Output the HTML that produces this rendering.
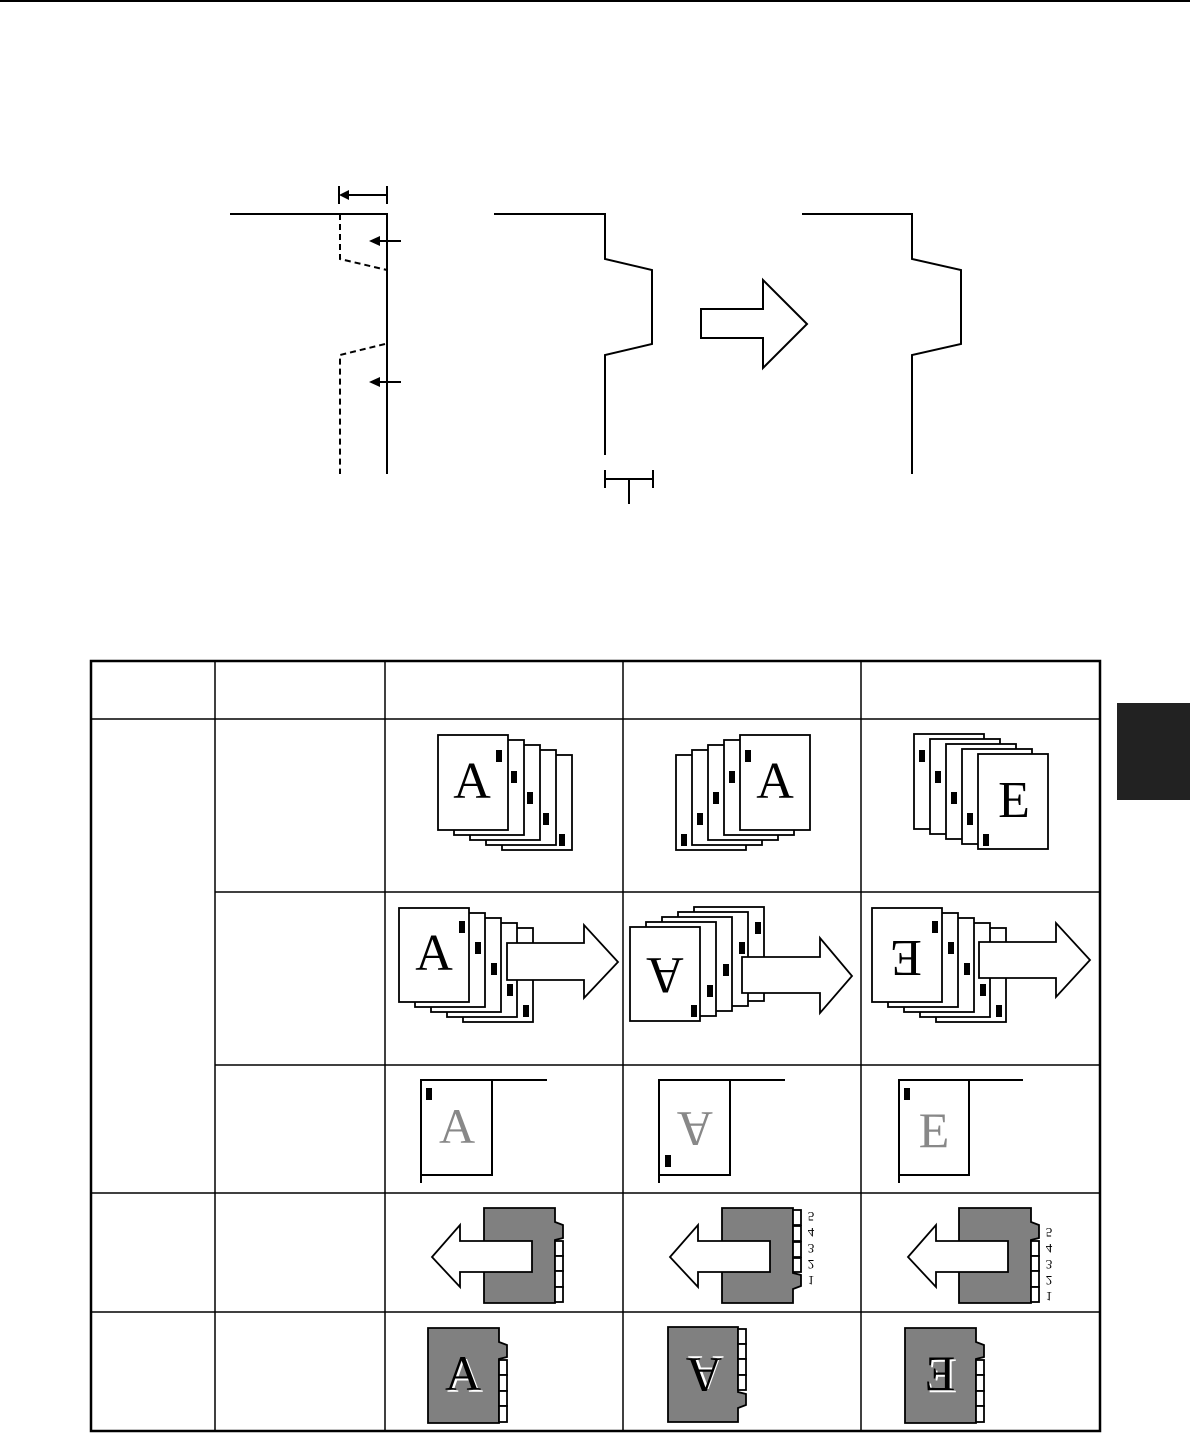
<!DOCTYPE html>
<html><head><meta charset="utf-8"><style>
html,body{margin:0;padding:0;background:#fff;}
svg{display:block;}
text{font-family:"Liberation Serif",serif;}
</style></head><body>
<svg width="1190" height="1434" viewBox="0 0 1190 1434" xmlns="http://www.w3.org/2000/svg">
<line x1="0" y1="1" x2="1190" y2="1" stroke="#000" stroke-width="2"/>
<rect x="1117" y="703" width="73" height="97" fill="#222"/>

<g fill="none" stroke="#000" stroke-width="2">
<polyline points="230,214 387,214 387,474"/>
<polyline points="340,214 340,259 387,270" stroke-dasharray="6,4"/>
<polyline points="385,344 340,355 340,474" stroke-dasharray="6,4"/>
<line x1="339" y1="186" x2="339" y2="204"/>
<line x1="387" y1="186" x2="387" y2="204"/>
<line x1="345" y1="195" x2="387" y2="195"/>
<line x1="376" y1="241" x2="401" y2="241"/>
<line x1="376" y1="382" x2="401" y2="382"/>
<polyline points="494,214 605,214 605,259 652,270 652,344 605,355 605,455"/>
<line x1="605" y1="470" x2="605" y2="488"/>
<line x1="653" y1="470" x2="653" y2="488"/>
<line x1="605" y1="479" x2="653" y2="479"/>
<line x1="629" y1="479" x2="629" y2="504"/>
<polyline points="802,214 912,214 912,259 961,270 961,344 912,355 912,474"/>
<polygon points="701,309 763,309 763,280 807,324 763,368 763,338 701,338" fill="#fff"/>
</g>
<g fill="#000">
<polygon points="339,195 349,190 349,200"/>
<polygon points="369,241 380,236 380,246"/>
<polygon points="369,382 380,377 380,387"/>
</g>

<g stroke="#000" fill="none">
<rect x="91" y="661" width="1009" height="770" stroke-width="2.5"/>
<g stroke-width="1.5">
<line x1="215" y1="661" x2="215" y2="1431"/>
<line x1="385" y1="661" x2="385" y2="1431"/>
<line x1="623" y1="661" x2="623" y2="1431"/>
<line x1="861" y1="661" x2="861" y2="1431"/>
<line x1="91" y1="719" x2="1100" y2="719"/>
<line x1="215" y1="892" x2="1100" y2="892"/>
<line x1="215" y1="1065" x2="1100" y2="1065"/>
<line x1="91" y1="1193" x2="1100" y2="1193"/>
<line x1="91" y1="1312" x2="1100" y2="1312"/>
</g>
</g>

<!-- Row 1 -->
<g stroke="#000" stroke-width="1.8">
<rect x="502" y="755" width="70" height="95" fill="#fff"/><rect x="559" y="834" width="6" height="12" fill="#000" stroke="none"/>
<rect x="486" y="750" width="70" height="95" fill="#fff"/><rect x="543" y="813" width="6" height="12" fill="#000" stroke="none"/>
<rect x="470" y="745" width="70" height="95" fill="#fff"/><rect x="527" y="792" width="6" height="12" fill="#000" stroke="none"/>
<rect x="454" y="740" width="70" height="95" fill="#fff"/><rect x="511" y="771" width="6" height="12" fill="#000" stroke="none"/>
<rect x="438" y="735" width="70" height="95" fill="#fff"/><rect x="496" y="750" width="6" height="12" fill="#000" stroke="none"/>

<rect x="676" y="755" width="70" height="95" fill="#fff"/><rect x="681" y="834" width="6" height="12" fill="#000" stroke="none"/>
<rect x="692" y="750" width="70" height="95" fill="#fff"/><rect x="697" y="813" width="6" height="12" fill="#000" stroke="none"/>
<rect x="708" y="745" width="70" height="95" fill="#fff"/><rect x="713" y="792" width="6" height="12" fill="#000" stroke="none"/>
<rect x="724" y="740" width="70" height="95" fill="#fff"/><rect x="729" y="771" width="6" height="12" fill="#000" stroke="none"/>
<rect x="740" y="735" width="70" height="95" fill="#fff"/><rect x="745" y="750" width="6" height="12" fill="#000" stroke="none"/>

<rect x="914" y="734" width="70" height="95" fill="#fff"/><rect x="919" y="750" width="6" height="12" fill="#000" stroke="none"/>
<rect x="930" y="739" width="70" height="95" fill="#fff"/><rect x="935" y="771" width="6" height="12" fill="#000" stroke="none"/>
<rect x="946" y="744" width="70" height="95" fill="#fff"/><rect x="951" y="792" width="6" height="12" fill="#000" stroke="none"/>
<rect x="962" y="749" width="70" height="95" fill="#fff"/><rect x="967" y="813" width="6" height="12" fill="#000" stroke="none"/>
<rect x="978" y="754" width="70" height="95" fill="#fff"/><rect x="983" y="834" width="6" height="12" fill="#000" stroke="none"/>
</g>
<text x="472" y="798" font-size="52" text-anchor="middle">A</text>
<text x="775" y="798" font-size="52" text-anchor="middle">A</text>
<text x="1014" y="817" font-size="52" text-anchor="middle">E</text>

<!-- Row 2 -->
<g stroke="#000" stroke-width="1.8">
<rect x="463" y="928" width="70" height="94" fill="#fff"/><rect x="523" y="1005" width="6" height="12" fill="#000" stroke="none"/>
<rect x="447" y="923" width="70" height="94" fill="#fff"/><rect x="507" y="984" width="6" height="12" fill="#000" stroke="none"/>
<rect x="431" y="918" width="70" height="94" fill="#fff"/><rect x="491" y="963" width="6" height="12" fill="#000" stroke="none"/>
<rect x="415" y="913" width="70" height="94" fill="#fff"/><rect x="475" y="942" width="6" height="12" fill="#000" stroke="none"/>
<rect x="399" y="908" width="70" height="94" fill="#fff"/><rect x="459" y="921" width="6" height="12" fill="#000" stroke="none"/>

<rect x="694" y="907" width="70" height="94" fill="#fff"/><rect x="755" y="922" width="6" height="12" fill="#000" stroke="none"/>
<rect x="678" y="912" width="70" height="94" fill="#fff"/><rect x="739" y="942" width="6" height="12" fill="#000" stroke="none"/>
<rect x="662" y="917" width="70" height="94" fill="#fff"/><rect x="723" y="964" width="6" height="12" fill="#000" stroke="none"/>
<rect x="646" y="922" width="70" height="94" fill="#fff"/><rect x="707" y="985" width="6" height="12" fill="#000" stroke="none"/>
<rect x="630" y="927" width="70" height="94" fill="#fff"/><rect x="691" y="1005" width="6" height="12" fill="#000" stroke="none"/>

<rect x="936" y="928" width="70" height="94" fill="#fff"/><rect x="996" y="1005" width="6" height="12" fill="#000" stroke="none"/>
<rect x="920" y="923" width="70" height="94" fill="#fff"/><rect x="980" y="984" width="6" height="12" fill="#000" stroke="none"/>
<rect x="904" y="918" width="70" height="94" fill="#fff"/><rect x="964" y="963" width="6" height="12" fill="#000" stroke="none"/>
<rect x="888" y="913" width="70" height="94" fill="#fff"/><rect x="948" y="942" width="6" height="12" fill="#000" stroke="none"/>
<rect x="872" y="908" width="70" height="94" fill="#fff"/><rect x="932" y="921" width="6" height="12" fill="#000" stroke="none"/>
</g>
<text x="434" y="970" font-size="52" text-anchor="middle">A</text>
<text transform="translate(665,958) rotate(180)" font-size="52" text-anchor="middle">A</text>
<text transform="translate(906,941) rotate(180)" font-size="52" text-anchor="middle">E</text>
<g stroke="#000" stroke-width="1.8" fill="#fff">
<polygon points="507,943 584,943 584,925 618,962 584,998 584,980 507,980"/>
<polygon points="742,957 820,957 820,938 852,976 820,1013 820,993 742,993"/>
<polygon points="979,942 1056,942 1056,923 1090,960 1056,997 1056,978 979,978"/>
</g>

<!-- Row 3 -->
<g stroke="#000" stroke-width="2" fill="none">
<polyline points="421,1183 421,1080 547,1080"/><rect x="421" y="1080" width="71" height="95"/>
<polyline points="659,1183 659,1080 785,1080"/><rect x="659" y="1080" width="71" height="95"/>
<polyline points="899,1183 899,1080 1023,1080"/><rect x="899" y="1080" width="70" height="95"/>
</g>
<rect x="426" y="1088" width="6" height="12"/>
<rect x="665" y="1155" width="6" height="12"/>
<rect x="904" y="1088" width="6" height="12"/>
<g fill="#888" font-size="50" text-anchor="middle">
<text x="457" y="1143">A</text>
<text transform="translate(695,1112) rotate(180)">A</text>
<text x="934" y="1147">E</text>
</g>

<!-- Row 4 -->
<g stroke="#000" stroke-width="1.8">
<polygon points="484,1208 555,1208 555,1222 563,1225 563,1238 555,1240 555,1303 484,1303" fill="#808080"/>
<rect x="555" y="1241" width="8" height="15" fill="#fff"/><rect x="555" y="1256" width="8" height="15" fill="#fff"/><rect x="555" y="1271" width="8" height="16" fill="#fff"/><rect x="555" y="1287" width="8" height="15" fill="#fff"/>
<polygon points="432,1257 460,1225 460,1241 532,1241 532,1272 460,1272 460,1287" fill="#fff"/>

<polygon points="722,1208 793,1208 793,1273 801,1275 801,1286 793,1289 793,1303 722,1303" fill="#808080"/>
<rect x="793" y="1210" width="8" height="15" fill="#fff"/><rect x="793" y="1226" width="8" height="15" fill="#fff"/><rect x="793" y="1242" width="8" height="15" fill="#fff"/><rect x="793" y="1258" width="8" height="14" fill="#fff"/>
<polygon points="670,1257 698,1225 698,1241 770,1241 770,1272 698,1272 698,1287" fill="#fff"/>

<polygon points="959,1208 1031,1208 1031,1222 1039,1225 1039,1238 1031,1240 1031,1303 959,1303" fill="#808080"/>
<rect x="1031" y="1241" width="8" height="15" fill="#fff"/><rect x="1031" y="1256" width="8" height="15" fill="#fff"/><rect x="1031" y="1271" width="8" height="16" fill="#fff"/><rect x="1031" y="1287" width="8" height="15" fill="#fff"/>
<polygon points="908,1257 936,1225 936,1241 1008,1241 1008,1272 936,1272 936,1287" fill="#fff"/>
</g>
<g font-family="Liberation Sans,sans-serif" font-size="13" text-anchor="middle">
<g transform="translate(811,1249) scale(1,-1)">
<text x="0" y="-27">1</text><text x="0" y="-11">2</text><text x="0" y="5">3</text><text x="0" y="21">4</text><text x="0" y="37">5</text>
</g>
<g transform="translate(1049,1265) scale(1,-1)">
<text x="0" y="-27">1</text><text x="0" y="-11">2</text><text x="0" y="5">3</text><text x="0" y="21">4</text><text x="0" y="37">5</text>
</g>
</g>

<!-- Row 5 -->
<g stroke="#000" stroke-width="1.8">
<polygon points="428,1328 499,1328 499,1342 507,1345 507,1357 499,1359 499,1423 428,1423" fill="#808080"/>
<rect x="499" y="1360" width="8" height="15" fill="#fff"/><rect x="499" y="1375" width="8" height="16" fill="#fff"/><rect x="499" y="1391" width="8" height="15" fill="#fff"/><rect x="499" y="1406" width="8" height="16" fill="#fff"/>

<polygon points="668,1327 738,1327 738,1392 746,1394 746,1405 738,1408 738,1422 668,1422" fill="#808080"/>
<rect x="738" y="1329" width="8" height="15" fill="#fff"/><rect x="738" y="1344" width="8" height="15" fill="#fff"/><rect x="738" y="1359" width="8" height="16" fill="#fff"/><rect x="738" y="1375" width="8" height="15" fill="#fff"/>

<polygon points="905,1328 976,1328 976,1342 984,1345 984,1357 976,1359 976,1423 905,1423" fill="#808080"/>
<rect x="976" y="1360" width="8" height="15" fill="#fff"/><rect x="976" y="1375" width="8" height="16" fill="#fff"/><rect x="976" y="1391" width="8" height="15" fill="#fff"/><rect x="976" y="1406" width="8" height="16" fill="#fff"/>
</g>
<g font-size="50" text-anchor="middle">
<text x="465" y="1392" fill="#fff">A</text>
<text x="463" y="1390">A</text>
<g transform="translate(704,1358) rotate(180)"><text x="-2" y="2" fill="#fff">A</text><text x="0" y="0">A</text></g>
<g transform="translate(940,1390) scale(-1,1)"><text x="-2" y="2" fill="#fff">E</text><text x="0" y="0">E</text></g>
</g>
</svg>
</body></html>
